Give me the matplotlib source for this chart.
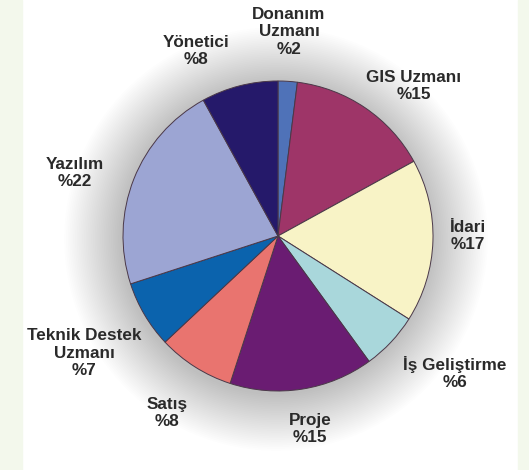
import matplotlib.pyplot as plt
from matplotlib.patches import Circle, Rectangle


OUTPUT_FILE = "out.png"

# Slices clockwise from 12 o'clock
labels = [
    "Donanım\nUzmanı\n%2",
    "GIS Uzmanı\n%15",
    "İdari\n%17",
    "İş Geliştirme\n%6",
    "Proje\n%15",
    "Satış\n%8",
    "Teknik Destek\nUzmanı\n%7",
    "Yazılım\n%22",
    "Yönetici\n%8",
]

shares = [2, 15, 17, 6, 15, 8, 7, 22, 8]

colors = [
    "#4f72b8",
    "#9e3568",
    "#f8f3c6",
    "#a9d7db",
    "#6a1c72",
    "#e9746f",
    "#0b63ad",
    "#9ca5d3",
    "#25196a",
]

# label centres in pixel coordinates (x from left, y from top)
label_positions = [
    (289, 32),
    (414, 86),
    (468, 236),
    (455, 373),
    (310, 429),
    (167, 413),
    (84, 353),
    (75, 173),
    (196, 51),
]

WIDTH = 529
HEIGHT = 470
CENTER = (278, HEIGHT - 236)
RADIUS = 155


def main() -> None:
    fig = plt.figure(figsize=(WIDTH / 100, HEIGHT / 100), dpi=100)
    ax = fig.add_axes([0, 0, 1, 1])

    # pale green strips at the edges of the slide
    ax.add_patch(Rectangle((0, 0), 22, HEIGHT, color="#f3f8ec", zorder=0))
    ax.add_patch(Rectangle((518, 0), 11, HEIGHT, color="#f3f8ec", zorder=0))

    # soft shadow behind the pie
    for step in range(32):
        ax.add_patch(
            Circle(
                (CENTER[0] - 2, CENTER[1] - 3),
                RADIUS + 1 + step * 1.8,
                color="#000000",
                alpha=0.008,
                linewidth=0,
                zorder=1,
            )
        )

    ax.pie(
        shares,
        colors=colors,
        startangle=90,
        counterclock=False,
        center=CENTER,
        radius=RADIUS,
        frame=True,
        wedgeprops={"edgecolor": "#4a3848", "linewidth": 0.7, "zorder": 2},
    )
    ax.set_xlim(0, WIDTH)
    ax.set_ylim(0, HEIGHT)
    ax.set_aspect("equal")
    ax.axis("off")

    for text, (x, y) in zip(labels, label_positions):
        ax.text(
            x,
            HEIGHT - y,
            text,
            ha="center",
            va="center",
            fontsize=12.3,
            fontweight="bold",
            family="Liberation Sans",
            color="#2a2a2a",
            linespacing=1.2,
            zorder=3,
        )

    fig.savefig(OUTPUT_FILE, dpi=100)
    plt.close(fig)


if __name__ == "__main__":
    main()
